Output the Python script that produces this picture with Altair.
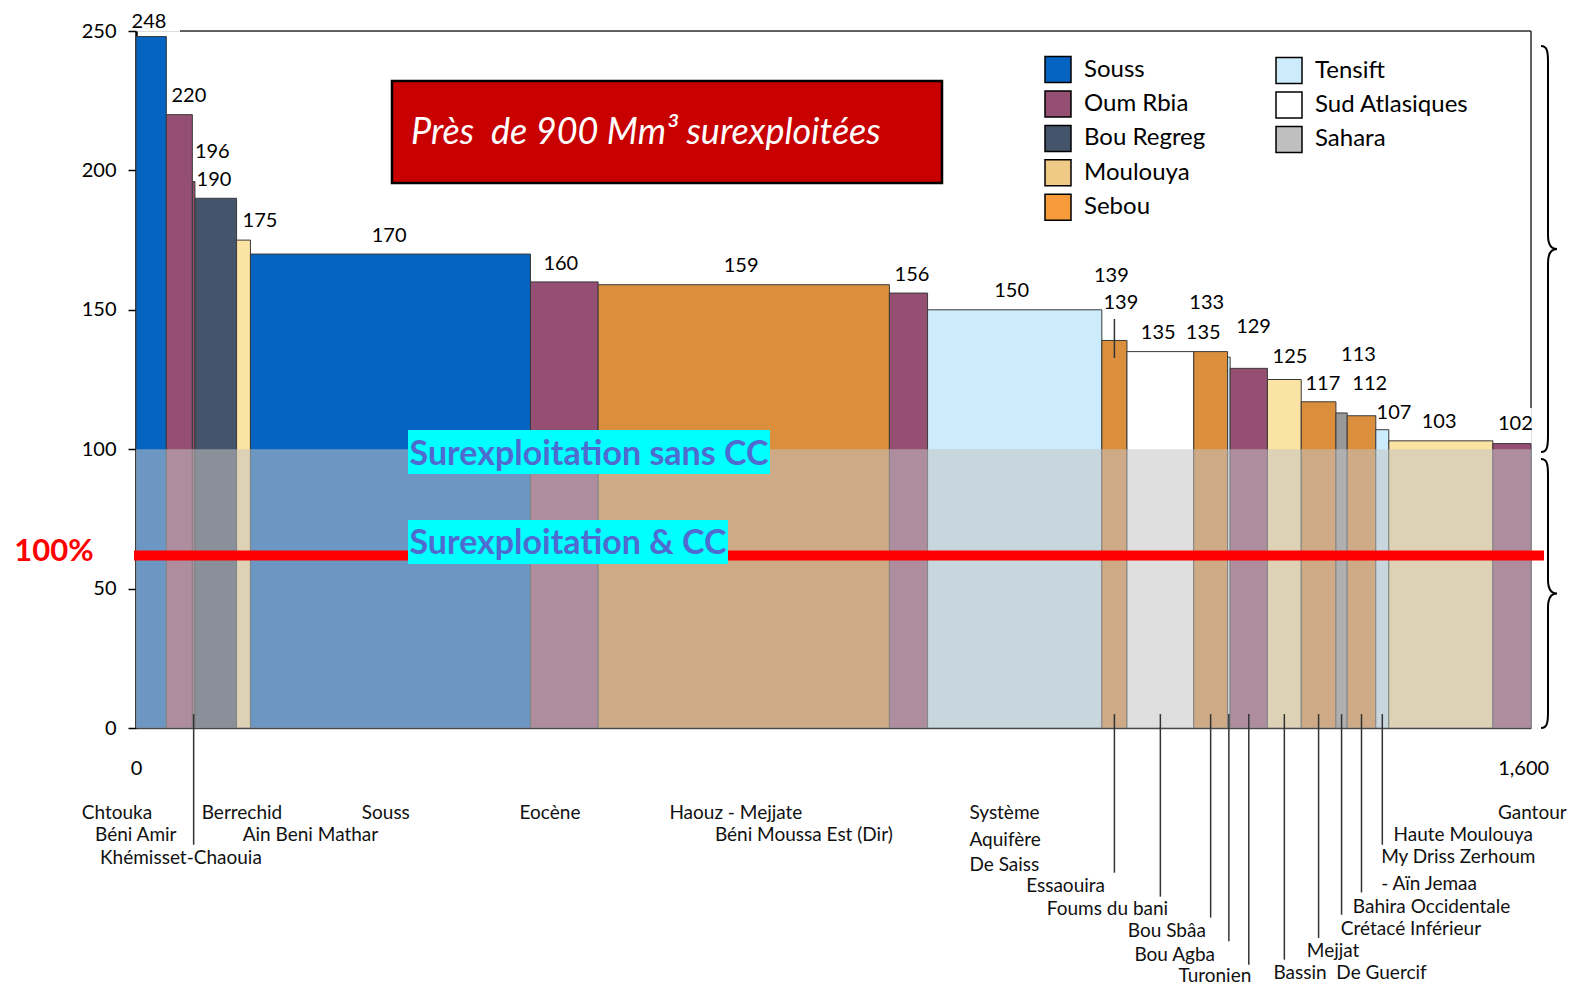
import altair as alt
import pandas as pd

# ---------------- data ----------------
names = ["Chtouka", "Béni Amir", "Khémisset-Chaouia", "Berrechid", "Ain Beni Mathar",
         "Souss", "Eocène", "Haouz - Mejjate", "Béni Moussa Est (Dir)",
         "Système Aquifère De Saiss", "Essaouira", "Foums du bani", "Bou Sbâa",
         "Bou Agba", "Turonien", "Bassin De Guercif", "Mejjat", "Crétacé Inférieur",
         "Bahira Occidentale", "My Driss Zerhoum - Aïn Jemaa", "Haute Moulouya", "Gantour"]
basins = ["Souss", "Oum Rbia", "Oum Rbia", "Bou Regreg", "Moulouya", "Souss", "Oum Rbia",
          "Sebou", "Oum Rbia", "Tensift", "Sebou", "Sud Atlasiques", "Sebou", "Tensift",
          "Oum Rbia", "Moulouya", "Sebou", "Sahara", "Sebou", "Tensift", "Moulouya", "Oum Rbia"]
values = [248, 220, 196, 190, 175, 170, 160, 159, 156, 150, 139, 135, 135, 133, 129,
          125, 117, 113, 112, 107, 103, 102]
widths = [35, 30, 3, 48, 16, 323, 78, 336, 44, 201, 29, 77, 39, 3, 43, 39, 40, 13, 33,
          15, 120, 44]

# value labels above bars (data units)
vlab_text = ["248", "220", "196", "190", "175", "170", "160", "159", "156", "150", "139",
             "139", "135", "135", "133", "129", "125", "117", "113", "112", "107", "103", "102"]
vlab_x = [15, 61, 88, 90, 143, 292, 490, 698, 895, 1010, 1125, 1136, 1179, 1231, 1235,
          1289, 1331, 1369, 1410, 1423, 1451, 1503, 1591]
vlab_y = [253.2, 226.6, 206.5, 196.5, 181.7, 176.3, 166.4, 165.7, 162.5, 156.7, 162.1,
          152.4, 141.6, 141.6, 152.4, 143.8, 133, 123.4, 133.8, 123.4, 113, 109.8, 109.1]

# aquifer names below the axis (data units)
nlab_text = ["Chtouka", "Béni Amir", "Khémisset-Chaouia", "Berrechid", "Souss",
             "Ain Beni Mathar", "Eocène", "Haouz - Mejjate", "Béni Moussa Est (Dir)",
             "Système", "Aquifère", "De Saiss", "Essaouira", "Foums du bani", "Bou Sbâa",
             "Bou Agba", "Turonien", "Bassin\u00a0 De Guercif", "Mejjat", "Crétacé Inférieur",
             "Bahira Occidentale", "- Aïn Jemaa", "My Driss Zerhoum", "Haute Moulouya", "Gantour"]
nlab_x = [-62.6, -47.3, -41.5, 75.8, 260.4, 123.1, 442.4, 615.2, 667.7, 961.3, 961.3,
          961.3, 1026.7, 1050.5, 1144.0, 1151.6, 1202.3, 1311.9, 1350.4, 1389.7, 1403.5,
          1436.2, 1436.2, 1450.4, 1570.8]
nlab_y = [-30.4, -38.3, -46.5, -30.4, -30.4, -38.3, -30.4, -30.4, -38.3, -30.4, -40.1,
          -49.0, -56.8, -64.9, -72.9, -81.3, -89.1, -87.8, -80.1, -72.1, -64.2, -55.9,
          -46.3, -38.3, -30.5]

# leader lines from bars to their names
lead_bar = ["Khémisset-Chaouia", "Essaouira", "Foums du bani", "Bou Sbâa", "Bou Agba",
            "Turonien", "Bassin De Guercif", "Mejjat", "Crétacé Inférieur",
            "Bahira Occidentale", "My Driss Zerhoum - Aïn Jemaa"]
lead_bottom = [-41.9, -51.9, -60.5, -68.0, -76.5, -84.9, -83.1, -75.3, -67.0, -59.0, -41.9]

legend_names = ["Souss", "Oum Rbia", "Bou Regreg", "Moulouya", "Sebou",
                "Tensift", "Sud Atlasiques", "Sahara"]

# ---------------- styles ----------------
bar_colors = ["#0563C1", "#954F72", "#44546A", "#FBE3A3", "#DB8F3D", "#CCEBFB", "#FFFFFF", "#999999"]
leg_colors = ["#0563C1", "#954F72", "#44546A", "#F0C987", "#F79A3A", "#CCEBFB", "#FFFFFF", "#BFBFBF"]
FONT = "Lato"

# ---------------- tables ----------------
x1 = []
acc = 0
for w in widths:
    acc += w
    x1.append(acc)
x0 = [a - w for a, w in zip(x1, widths)]
total = x1[-1]
df = pd.DataFrame({"name": names, "basin": basins, "value": values, "x0": x0, "x1": x1})
df["mid"] = (df["x0"] + df["x1"]) / 2

vl = pd.DataFrame({"t": vlab_text, "x": vlab_x, "y": vlab_y})
nl = pd.DataFrame({"t": nlab_text, "x": nlab_x, "y": nlab_y})
mids = dict(zip(df["name"], df["mid"]))
ld = pd.DataFrame({"x": [mids[b] for b in lead_bar], "y": [5] * len(lead_bar), "y2": lead_bottom})
ld = pd.concat([ld, pd.DataFrame({"x": [mids["Essaouira"]], "y": [146.7], "y2": [132.7]})])

leg = pd.DataFrame({"basin_leg": legend_names,
                    "col": [0, 0, 0, 0, 0, 1, 1, 1],
                    "row": [0, 1, 2, 3, 4, 0, 1, 2]})
leg["lx"] = 922 + leg["col"] * 231
leg["ly"] = 38.6 + leg["row"] * 34.4 + leg["col"] * 1.0
leg["tx"] = leg["lx"] + 26

frame = pd.DataFrame({"x": [50.8, total], "x2": [total, total], "y": [250, 250], "y2": [250, 114.8]})
over = pd.DataFrame({"x": [0], "x2": [total], "y": [0], "y2": [100]})

xscale = alt.Scale(domain=[0, total], nice=False, zero=False)
yscale = alt.Scale(domain=[0, 250], nice=False)

bars = alt.Chart(df).mark_rect(stroke="#3a3a3a", strokeWidth=1).encode(
    x=alt.X("x0:Q", scale=xscale,
            axis=alt.Axis(values=[0, 1600], format=",.0f", ticks=False, grid=False, title=None,
                          labelFlush=False, labelFont=FONT, labelFontSize=20, labelColor="black",
                          labelPadding=30, domainColor="#595959", domainWidth=1.5)),
    x2="x1:Q",
    y=alt.Y("value:Q", scale=yscale,
            axis=alt.Axis(values=[0, 50, 100, 150, 200, 250], grid=False, title=None,
                          tickSize=8, tickColor="black", tickWidth=1.5,
                          domainColor="black", domainWidth=2.5, labelFlush=False,
                          labelFont=FONT, labelFontSize=20, labelColor="black", labelPadding=12)),
    y2=alt.datum(0),
    color=alt.Color("basin:N", scale=alt.Scale(domain=legend_names, range=bar_colors), legend=None),
)

overlay = alt.Chart(over).mark_rect(color="#C3C3C3", opacity=0.54).encode(
    x="x:Q", x2="x2:Q", y="y:Q", y2="y2:Q")

frame_lines = alt.Chart(frame).mark_rule(color="#333333", strokeWidth=1.5).encode(
    x="x:Q", x2="x2:Q", y="y:Q", y2="y2:Q")

value_labels = alt.Chart(vl).mark_text(font=FONT, fontSize=20, color="black",
                                       baseline="middle", align="center").encode(
    x="x:Q", y="y:Q", text="t:N")

name_labels = alt.Chart(nl).mark_text(font=FONT, fontSize=19, color="#111111",
                                      baseline="middle", align="left").encode(
    x="x:Q", y="y:Q", text="t:N")

leaders = alt.Chart(ld).mark_rule(color="#333333", strokeWidth=1.5).encode(
    x="x:Q", y="y:Q", y2="y2:Q")

# red title box
title_box = alt.Chart(over).mark_rect(color="#C80000", stroke="black", strokeWidth=2.5).encode(
    x=alt.value(256), x2=alt.value(806), y=alt.value(50), y2=alt.value(152))
title_text = alt.Chart(over).mark_text(text="Près\u00a0 de 900 Mm³ surexploitées", font=FONT,
                                       fontSize=36, fontStyle="italic", color="white",
                                       align="left", baseline="middle").encode(
    x=alt.value(275), y=alt.value(102))

# 100% line and labels
red_line = alt.Chart(over).mark_rule(color="#FF0000", strokeWidth=10).encode(
    x=alt.value(-2), x2=alt.value(1408), y=alt.value(524.5))
pct = alt.Chart(over).mark_text(text="100%", font=FONT, fontSize=31, fontWeight="bold",
                                color="#FF0000", align="center", baseline="middle").encode(
    x=alt.value(-82), y=alt.value(521))

cyan1 = alt.Chart(over).mark_rect(color="#00FFFF").encode(
    x=alt.value(272), x2=alt.value(634), y=alt.value(399), y2=alt.value(443))
cyan1_t = alt.Chart(over).mark_text(text="Surexploitation sans CC", font=FONT, fontSize=34,
                                    fontWeight="bold", color="#4F6BD0", align="center",
                                    baseline="middle").encode(x=alt.value(453), y=alt.value(424))
cyan2 = alt.Chart(over).mark_rect(color="#00FFFF").encode(
    x=alt.value(272), x2=alt.value(592), y=alt.value(489), y2=alt.value(533))
cyan2_t = alt.Chart(over).mark_text(text="Surexploitation & CC", font=FONT, fontSize=34,
                                    fontWeight="bold", color="#4F6BD0", align="center",
                                    baseline="middle").encode(x=alt.value(432), y=alt.value(513))


def brace_path(h):
    pts = "M -7 {a} C -1 {a} 0 {b} 0 {c} L 0 -14 C 0 -4 4 0 9 0 C 4 0 0 4 0 14 L 0 {d} C 0 {e} -1 {f} -7 {f}"
    s = pts.format(a=-h, b=-h + 5, c=-h + 16, d=h - 16, e=h - 5, f=h)
    out = []
    for tok in s.split():
        try:
            out.append("{:.4f}".format(float(tok) / h))
        except ValueError:
            out.append(tok)
    return " ".join(out)


brace_up = alt.Chart(over).mark_point(shape=brace_path(203), size=(2 * 203) ** 2, filled=False,
                                      stroke="black", strokeWidth=2, opacity=1).encode(
    x=alt.value(1412), y=alt.value(218))
brace_low = alt.Chart(over).mark_point(shape=brace_path(134.5), size=(2 * 134.5) ** 2,
                                       filled=False, stroke="black", strokeWidth=2,
                                       opacity=1).encode(
    x=alt.value(1412), y=alt.value(562.5))

leg_sq = alt.Chart(leg).mark_square(size=676, stroke="black", strokeWidth=1.5, opacity=1,
                                    filled=True).encode(
    x=alt.X("lx:Q", scale=None, axis=None), y=alt.Y("ly:Q", scale=None, axis=None),
    color=alt.Color("basin_leg:N", scale=alt.Scale(domain=legend_names, range=leg_colors),
                    legend=None))
leg_tx = alt.Chart(leg).mark_text(font=FONT, fontSize=24, color="black", align="left",
                                  baseline="middle").encode(
    x=alt.X("tx:Q", scale=None, axis=None), y=alt.Y("ly:Q", scale=None, axis=None),
    text="basin_leg:N")

chart = alt.layer(
    bars, overlay, frame_lines, leaders, value_labels, name_labels,
    title_box, title_text, red_line, pct, cyan1, cyan1_t, cyan2, cyan2_t,
    brace_up, brace_low, leg_sq, leg_tx
).resolve_scale(color="independent").properties(
    width=1395, height=697,
    autosize=alt.AutoSizeParams(type="none"),
    padding={"left": 128, "top": 23, "right": 36, "bottom": 260},
).configure_view(stroke=None).configure(background="white")

chart.save("out.html", embed_options={"renderer": "svg", "actions": False})
